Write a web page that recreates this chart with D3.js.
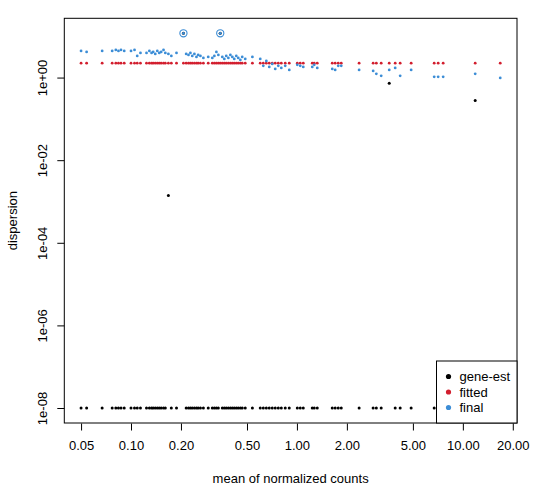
<!DOCTYPE html>
<html>
<head>
<meta charset="utf-8">
<script src="https://cdn.jsdelivr.net/npm/d3@7"></script>
<style>
html,body{margin:0;padding:0;background:#fff;}
svg{display:block;font-family:"Liberation Sans",Arial,Helvetica,sans-serif;}
</style>
</head>
<body>
<svg id="chart" width="540" height="501"></svg>
<script>
// mean of normalized counts per gene
const baseMean = [0.050,0.054,0.067,0.077,0.081,0.084,0.087,0.091,0.100,0.105,
  0.109,0.114,0.124,0.129,0.133,0.136,0.140,0.144,0.148,0.152,
  0.157,0.161,0.168,0.175,0.188,0.207,0.215,0.222,0.228,0.234,
  0.241,0.248,0.254,0.262,0.273,0.292,0.309,0.318,0.327,0.336,
  0.345,0.355,0.365,0.375,0.386,0.397,0.408,0.419,0.431,0.443,
  0.456,0.468,0.488,0.539,0.601,0.627,0.654,0.681,0.710,0.740,
  0.772,0.805,0.850,0.899,1.005,1.047,1.092,1.237,1.272,1.326,
  1.633,1.700,1.774,1.850,2.37,2.88,3.01,3.22,3.60,3.91,
  4.19,4.88,6.72,7.10,7.61,11.87,16.8];
// gene-wise dispersion estimates (floored at 1e-8)
const geneEst = [1e-8,1e-8,1e-8,1e-8,1e-8,1e-8,1e-8,1e-8,1e-8,1e-8,
  1e-8,1e-8,1e-8,1e-8,1e-8,1e-8,1e-8,1e-8,1e-8,1e-8,
  1e-8,1e-8,1.39e-3,1e-8,1e-8,11.8,1e-8,1e-8,1e-8,1e-8,
  1e-8,1e-8,1e-8,1e-8,1e-8,1e-8,1e-8,1e-8,1e-8,1e-8,
  11.8,1e-8,1e-8,1e-8,1e-8,1e-8,1e-8,1e-8,1e-8,1e-8,
  1e-8,1e-8,1e-8,1e-8,1e-8,1e-8,1e-8,1e-8,1e-8,1e-8,
  1e-8,1e-8,1e-8,1e-8,1e-8,1e-8,1e-8,1e-8,1e-8,1e-8,
  1e-8,1e-8,1e-8,1e-8,1e-8,1e-8,1e-8,1e-8,0.73,1e-8,
  1e-8,1e-8,1e-8,1e-8,1e-8,0.28,1e-8];
// fitted dispersion trend
const fitted = [2.23,2.23,2.23,2.23,2.23,2.23,2.23,2.23,2.23,2.23,
  2.23,2.23,2.23,2.23,2.23,2.23,2.23,2.23,2.23,2.23,
  2.23,2.23,2.23,2.23,2.23,2.23,2.23,2.23,2.23,2.23,
  2.23,2.23,2.23,2.23,2.23,2.23,2.23,2.23,2.23,2.23,
  2.23,2.23,2.23,2.23,2.23,2.23,2.23,2.23,2.23,2.23,
  2.23,2.23,2.23,2.23,2.23,2.23,2.23,2.23,2.23,2.23,
  2.23,2.23,2.23,2.23,2.23,2.23,2.23,2.23,2.23,2.23,
  2.23,2.23,2.23,2.23,2.23,2.23,2.23,2.23,2.23,2.23,
  2.23,2.23,2.23,2.23,2.23,2.23,2.23];
// final (MAP) dispersion
const finalDisp = [4.42,4.18,4.42,4.42,4.67,4.42,4.67,4.42,4.42,4.67,
  3.35,3.95,3.95,4.42,3.95,4.18,3.74,4.42,3.95,4.18,
  4.67,3.95,3.74,3.35,3.95,11.8,3.74,3.54,3.95,3.35,
  3.74,3.16,3.54,3.35,2.99,3.16,2.99,3.35,4.18,3.54,
  11.8,3.16,2.83,3.35,2.99,3.54,3.16,2.83,3.35,2.99,
  2.68,3.16,2.83,3.16,2.83,1.92,2.53,1.81,2.14,1.62,
  1.92,1.71,1.92,1.53,2.03,1.92,1.81,1.81,2.03,1.71,
  1.62,1.53,1.92,1.92,1.53,1.45,1.23,1.10,1.53,1.71,
  1.10,1.53,1.04,1.04,1.04,1.23,0.98];
// dispersion outliers (indices into the arrays above)
const outlierIdx = [25, 40];

const xTicks = [0.05,0.10,0.20,0.50,1.00,2.00,5.00,10.00,20.00];
const xTickLabels = ["0.05","0.10","0.20","0.50","1.00","2.00","5.00","10.00","20.00"];
const yTicks = [1e0,1e-2,1e-4,1e-6,1e-8];
const yTickLabels = ["1e+00","1e-02","1e-04","1e-06","1e-08"];
const legendLabels = ["gene-est","fitted","final"];
const colors = {gene:"#000000", fit:"#d21e2e", fin:"#3c8dd6"};

const svg = d3.select("#chart");
const box = {l:64.3, r:517, t:18.3, b:423};

// R-style 4% extension of log ranges
function extLog(lo, hi){
  const a = Math.log10(lo), b = Math.log10(hi), d = (b-a)*0.04;
  return [Math.pow(10,a-d), Math.pow(10,b+d)];
}
const allY = geneEst.concat(fitted, finalDisp);
const x = d3.scaleLog().domain(extLog(d3.min(baseMean), d3.max(baseMean))).range([box.l, box.r]);
const y = d3.scaleLog().domain(extLog(d3.min(allY), d3.max(allY))).range([box.b, box.t]);

// axes
const xAxis = d3.axisBottom(x).tickValues(xTicks).tickFormat((d,i)=>xTickLabels[i]).tickSize(7).tickPadding(5);
const gx = svg.append("g").attr("transform",`translate(0,${box.b+0.5})`).call(xAxis);
gx.select(".domain").remove();
gx.selectAll("line").attr("stroke","#000");
gx.selectAll("text").attr("font-size",13).attr("fill","#000")
  .attr("font-family","Liberation Sans, Arial, sans-serif").attr("dy","1.15em");

const yAxis = d3.axisLeft(y).tickValues(yTicks).tickFormat((d,i)=>yTickLabels[i]).tickSize(7).tickPadding(0);
const gy = svg.append("g").attr("transform",`translate(${box.l},0)`).call(yAxis);
gy.select(".domain").remove();
gy.selectAll("line").attr("stroke","#000");
gy.selectAll("text").attr("font-size",13).attr("fill","#000")
  .attr("font-family","Liberation Sans, Arial, sans-serif")
  .attr("text-anchor","middle").attr("x",0).attr("dy",0)
  .attr("transform","translate(-17,0) rotate(-90)");

// points
const idx = d3.range(baseMean.length);
svg.append("g").selectAll("circle").data(idx).join("circle")
  .attr("cx",i=>x(baseMean[i])).attr("cy",i=>y(geneEst[i])).attr("r",1.5).attr("fill",colors.gene);
svg.append("g").selectAll("circle").data(idx).join("circle")
  .attr("cx",i=>x(baseMean[i])).attr("cy",i=>y(fitted[i])).attr("r",1.4).attr("fill",colors.fit);
svg.append("g").selectAll("circle").data(idx).join("circle")
  .attr("cx",i=>x(baseMean[i])).attr("cy",i=>y(finalDisp[i])).attr("r",1.4).attr("fill",colors.fin);
svg.append("g").selectAll("circle").data(outlierIdx).join("circle")
  .attr("cx",i=>x(baseMean[i])).attr("cy",i=>y(finalDisp[i])).attr("r",3.6)
  .attr("fill","none").attr("stroke",colors.fin).attr("stroke-width",1.1);

// box
svg.append("rect").attr("x",box.l).attr("y",box.t).attr("width",box.r-box.l).attr("height",box.b-box.t)
  .attr("fill","none").attr("stroke","#000").attr("stroke-width",1);

// legend
const lg = svg.append("g");
lg.append("rect").attr("x",436.5).attr("y",361).attr("width",box.r-436.5).attr("height",box.b-361)
  .attr("fill","#fff").attr("stroke","#000").attr("stroke-width",1);
const lcol = [colors.gene, colors.fit, colors.fin];
legendLabels.forEach((t,i)=>{
  const cy = 376.5 + i*15.5;
  lg.append("circle").attr("cx",448.5).attr("cy",cy).attr("r",2.6).attr("fill",lcol[i]);
  lg.append("text").attr("x",459.5).attr("y",cy).attr("dy","0.35em").attr("font-size",13).attr("fill","#000").text(t);
});

// axis titles
svg.append("text").attr("x",(box.l+box.r)/2).attr("y",483).attr("text-anchor","middle")
  .attr("font-size",13).attr("fill","#000").text("mean of normalized counts");
svg.append("text").attr("transform",`translate(17,${(box.t+box.b)/2}) rotate(-90)`).attr("text-anchor","middle")
  .attr("font-size",13).attr("fill","#000").text("dispersion");
</script>
</body>
</html>
